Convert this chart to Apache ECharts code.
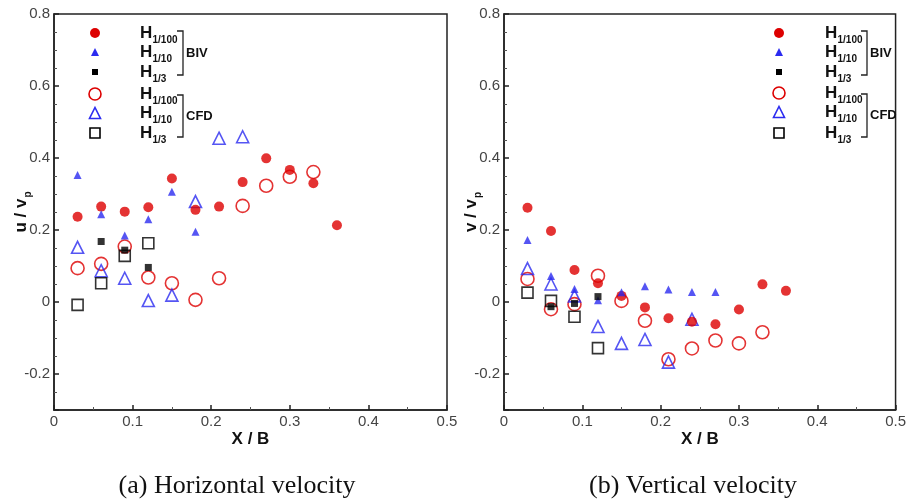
<!DOCTYPE html>
<html><head><meta charset="utf-8">
<script src="https://cdn.jsdelivr.net/npm/echarts@6/dist/echarts.min.js"></script>
<style>html,body{margin:0;padding:0;background:#fff}#c{width:909px;height:502px}</style>
</head><body><div id="c"></div>
<script>
// x positions (X / B)
const xPositions = [0.03,0.06,0.09,0.12,0.15,0.18,0.21,0.24,0.27,0.30,0.33,0.36];
// (a) horizontal velocity u / vp
const uBivH100 = [0.237,0.265,0.251,0.263,0.343,0.256,0.265,0.333,0.399,0.367,0.330,0.213];
const uBivH10  = [0.353,0.244,0.185,0.230,0.306,0.195];
const uBivH3   = [null,0.168,0.144,0.096];
const uCfdH100 = [0.094,0.106,0.154,0.068,0.052,0.006,0.066,0.267,0.323,0.348,0.361];
const uCfdH10  = [0.152,0.087,0.066,0.004,0.019,0.279,0.455,0.459];
const uCfdH3   = [-0.008,0.052,0.128,0.163];
// (b) vertical velocity v / vp
const vBivH100 = [0.262,0.197,0.089,0.052,0.017,-0.015,-0.045,-0.055,-0.062,-0.021,0.049,0.031];
const vBivH10  = [0.172,0.072,0.036,0.005,0.027,0.044,0.035,0.028,0.028];
const vBivH3   = [null,-0.013,-0.004,0.015];
const vCfdH100 = [0.064,-0.020,-0.006,0.073,0.003,-0.052,-0.159,-0.129,-0.107,-0.115,-0.084];
const vCfdH10  = [0.093,0.050,0.017,-0.068,-0.115,-0.104,-0.167,-0.048];
const vCfdH3   = [0.026,0.003,-0.041,-0.128];

const legendSubs = ['1/100','1/10','1/3','1/100','1/10','1/3'];
const groupNames = ['BIV','CFD'];
const captions = ['(a) Horizontal velocity','(b) Vertical velocity'];

const RED = '#dd0000', BLUE = '#2b2bf0', BLACK = '#000';
const AXC = '#222';

function pairs(vals){ const out=[]; vals.forEach((v,i)=>{ if(v!==null) out.push([xPositions[i], v]); }); return out; }

const styles = [
  {name:'CFD H1/100', symbol:'circle', size:13, itemStyle:{color:'rgba(0,0,0,0)', borderColor:RED, borderWidth:1.6}},
  {name:'CFD H1/10', symbol:'triangle', size:12, itemStyle:{color:'rgba(0,0,0,0)', borderColor:BLUE, borderWidth:1.6}},
  {name:'CFD H1/3', symbol:'rect', size:11, itemStyle:{color:'rgba(0,0,0,0)', borderColor:BLACK, borderWidth:1.6}},
  {name:'BIV H1/100', symbol:'circle', size:10, itemStyle:{color:RED}},
  {name:'BIV H1/10', symbol:'triangle', size:8, itemStyle:{color:BLUE}},
  {name:'BIV H1/3', symbol:'rect', size:7, itemStyle:{color:BLACK}},
];
const uSets = [uCfdH100,uCfdH10,uCfdH3,uBivH100,uBivH10,uBivH3];
const vSets = [vCfdH100,vCfdH10,vCfdH3,vBivH100,vBivH10,vBivH3];

const series = [];
[uSets, vSets].forEach((sets, gi)=>{
  sets.forEach((vals, k)=>{
    const s = styles[k];
    series.push({type:'scatter', name:s.name, xAxisIndex:gi, yAxisIndex:gi, symbol:s.symbol, symbolSize:s.size,
      itemStyle:s.itemStyle, data:pairs(vals), z: 2 + k});
  });
});

const FONT = 'Liberation Sans, Arial, sans-serif';
function xAx(gi){ return {gridIndex:gi, type:'value', min:0, max:0.5, interval:0.1,
  name:'X / B', nameLocation:'middle', nameGap:21, nameMoveOverlap:false,
  nameTextStyle:{fontFamily:FONT, fontSize:17, fontWeight:'bold', color:'#111'},
  axisLine:{show:true, onZero:false, lineStyle:{color:AXC, width:1.5}},
  axisTick:{show:true, inside:true, length:5, lineStyle:{color:AXC, width:1.5}},
  minorTick:{show:true, splitNumber:2, length:3, lineStyle:{color:'#555', width:1}},
  splitLine:{show:false},
  axisLabel:{fontFamily:FONT, fontSize:15, color:'#444', margin:4, formatter:v=>String(+v.toFixed(1))}}; }
function yAx(gi, nm){ return {gridIndex:gi, type:'value', min:-0.3, max:0.8,
  name:nm, nameLocation:'middle', nameGap:21, nameMoveOverlap:false,
  nameTextStyle:{fontFamily:FONT, fontSize:17, fontWeight:'bold', color:'#111',
    rich:{s:{fontFamily:FONT, fontSize:10, fontWeight:'bold', color:'#111', padding:[0,0,0,1], verticalAlign:'bottom', lineHeight:24}}},
  axisLine:{show:true, onZero:false, lineStyle:{color:AXC, width:1.5}},
  axisTick:{show:true, inside:true, length:5, lineStyle:{color:AXC, width:1.5}},
  minorTick:{show:true, splitNumber:4, length:3, lineStyle:{color:'#555', width:1}},
  splitLine:{show:false},
  axisLabel:{fontFamily:FONT, fontSize:15, color:'#444', margin:4, showMinLabel:false,
    formatter:v=>String(+v.toFixed(1))}}; }

// legend drawn with graphic elements
function legendGraphics(mx, hx, bx, rowsY){
  const g = [];
  const st = styles.slice(3).concat(styles.slice(0,3)); // BIV first then CFD
  rowsY.forEach((y, i)=>{
    const s = st[i];
    const open = i >= 3;
    const col = s.itemStyle.borderColor || s.itemStyle.color;
    const fill = open ? 'rgba(0,0,0,0)' : col;
    const stroke = open ? col : null;
    const lw = open ? 1.6 : 0;
    if (s.symbol==='circle') {
      const r = open ? 6 : 5;
      g.push({type:'circle', shape:{cx:mx, cy:y, r:r}, style:{fill:fill, stroke:stroke, lineWidth:lw}});
    } else if (s.symbol==='triangle') {
      const h = open ? 11 : 8;
      g.push({type:'polygon', shape:{points:[[mx, y-h/2],[mx+h/2, y+h/2],[mx-h/2, y+h/2]]}, style:{fill:fill, stroke:stroke, lineWidth:lw}});
    } else {
      const a = open ? 10 : 6;
      g.push({type:'rect', shape:{x:mx-a/2, y:y-a/2, width:a, height:a}, style:{fill:fill, stroke:stroke, lineWidth:lw}});
    }
    g.push({type:'text', x:hx, y:y, style:{text:'H', fontFamily:FONT, fontSize:17, fontWeight:'bold', fill:'#111', verticalAlign:'middle'}});
    g.push({type:'text', x:hx+12.5, y:y+7, style:{text:legendSubs[i], fontFamily:FONT, fontSize:10, fontWeight:'bold', fill:'#111', verticalAlign:'middle'}});
  });
  [[rowsY[0]-2, rowsY[2]+3, 0],[rowsY[3]+1, rowsY[5]+4, 1]].forEach(([t,b,k])=>{
    g.push({type:'polyline', shape:{points:[[bx-6,t],[bx,t],[bx,b],[bx-6,b]]}, style:{stroke:'#222', lineWidth:1.3, fill:null}});
    g.push({type:'text', x:bx+3, y:(t+b)/2, style:{text:groupNames[k], fontFamily:FONT, fontSize:13, fontWeight:'bold', fill:'#111', verticalAlign:'middle'}});
  });
  return g;
}

const graphic = []
  .concat(legendGraphics(95, 140, 183, [33,52,72,94,113,133]))
  .concat(legendGraphics(779, 825, 867, [33,52,72,93,112,133]))
  .concat([
    {type:'text', x:237, y:486, style:{text:captions[0], fontFamily:'Liberation Serif, Times New Roman, serif', fontSize:26, fill:'#111', align:'center', verticalAlign:'middle'}},
    {type:'text', x:693, y:486, style:{text:captions[1], fontFamily:'Liberation Serif, Times New Roman, serif', fontSize:26, fill:'#111', align:'center', verticalAlign:'middle'}}
  ]);

const chart = echarts.init(document.getElementById('c'), null, {renderer:'canvas'});
chart.setOption({
  animation:false,
  backgroundColor:'#fff',
  grid:[
    {left:54, right:462, top:14, bottom:92, show:true, borderColor:AXC, borderWidth:1.5, backgroundColor:'transparent'},
    {left:504, right:12, top:14, bottom:92, show:true, borderColor:AXC, borderWidth:1.5, backgroundColor:'transparent'}
  ],
  xAxis:[xAx(0), xAx(1)],
  yAxis:[yAx(0,'u / v{s|p}'), yAx(1,'v / v{s|p}')],
  series: series,
  graphic: graphic
});
</script></body></html>
